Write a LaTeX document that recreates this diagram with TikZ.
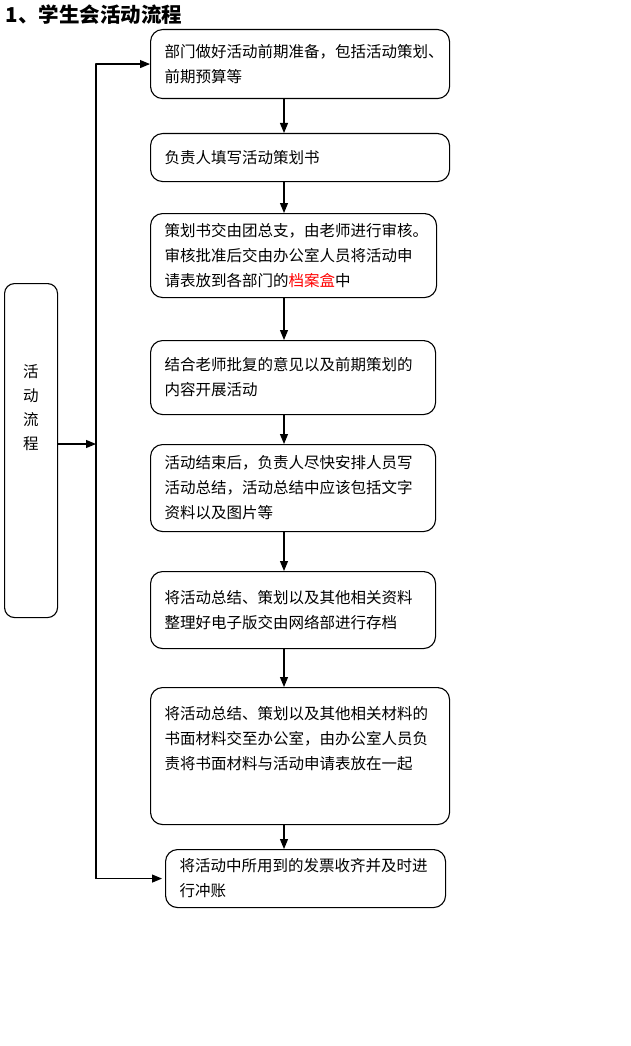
\documentclass[tikz,border=0pt]{standalone}
\usepackage{fontspec}
\setmainfont{Noto Sans CJK SC}
\usetikzlibrary{arrows.meta}
\begin{document}
\begin{tikzpicture}[x=1pt,y=-1pt,line cap=round,line join=round,
  stepbox/.style={draw,line width=1.1pt,rounded corners=12pt,anchor=north west,align=left,inner xsep=14pt,font=\fontsize{15.5pt}{25pt}\selectfont},
  arr/.style={line width=1.1pt,-{Triangle[length=10pt,width=8pt]}}]
\useasboundingbox (0,0) rectangle (630,1046);
\node[anchor=west,font=\bfseries\fontsize{20.5pt}{24pt}\selectfont] (title) at (2,15) {1、学生会活动流程};
% steps
\node[stepbox,text width=271pt,minimum height=69pt] (b1) at (150,29) {部门做好活动前期准备，包括活动策划、\\前期预算等};
\node[stepbox,text width=271pt,minimum height=48pt] (b2) at (150,133) {负责人填写活动策划书};
\node[stepbox,text width=258pt,minimum height=84pt] (b3) at (150,213) {策划书交由团总支，由老师进行审核。\\审核批准后交由办公室人员将活动申\\请表放到各部门的\textcolor{red}{档案盒}中};
\node[stepbox,text width=257pt,minimum height=74pt] (b4) at (150,340) {结合老师批复的意见以及前期策划的\\内容开展活动};
\node[stepbox,text width=257pt,minimum height=87pt] (b5) at (150,444) {活动结束后，负责人尽快安排人员写\\活动总结，活动总结中应该包括文字\\资料以及图片等};
\node[stepbox,text width=257pt,minimum height=77pt] (b6) at (150,571) {将活动总结、策划以及其他相关资料\\整理好电子版交由网络部进行存档};
\node[stepbox,text width=271pt,minimum height=137pt] (b7) at (150,687) {将活动总结、策划以及其他相关材料的\\书面材料交至办公室，由办公室人员负\\责将书面材料与活动申请表放在一起\\[12pt]~};
\node[stepbox,text width=252pt,minimum height=58pt] (b8) at (165,849) {将活动中所用到的发票收齐并及时进\\行冲账};
% side label
\node[draw,line width=1.1pt,rounded corners=10pt,anchor=north west,minimum width=53pt,minimum height=334pt] (side) at (4,283) {};
\node[align=center,font=\fontsize{15.5pt}{24pt}\selectfont] (sidetext) at (31,408) {活\\动\\流\\程};
\coordinate (spine) at (96,444);\coordinate (axis) at (284,0);
\foreach \a/\b in {b1/b2,b2/b3,b3/b4,b4/b5,b5/b6,b6/b7,b7/b8}{\draw[arr] (axis |- \a.south) -- (axis |- \b.north);}
\draw[arr] (side.east |- spine) -- (spine);
\draw[arr] (spine |- b8.west) -- (spine |- b1.west) -- (b1.west);
\draw[arr] (spine |- b8.west) -- ([xshift=-3pt]b8.west);
\end{tikzpicture}
\end{document}
